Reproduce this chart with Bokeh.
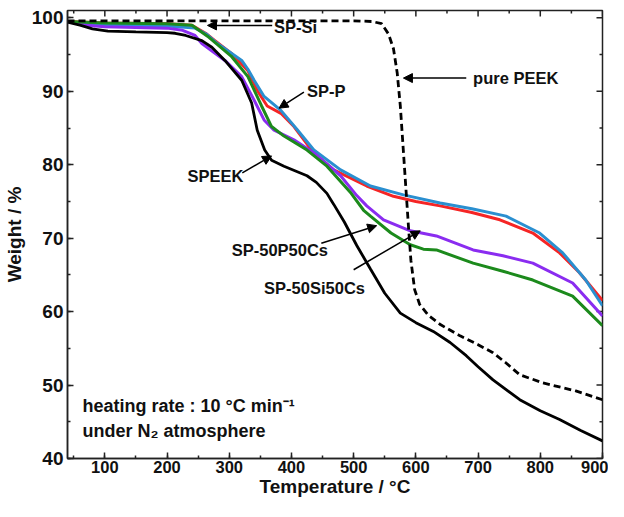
import math
from bokeh.plotting import figure
from bokeh.models import Range1d, SingleIntervalTicker, Arrow, NormalHead
from bokeh.core.properties import value
from bokeh.embed import file_html
from bokeh.resources import INLINE

FONT = "Liberation Sans"

# ---- data ----
peek_T = [40, 100, 200, 300, 400, 500, 530, 545, 556, 564, 570, 575, 579, 583, 588, 592, 598, 606, 620, 640, 671, 700, 724, 745, 767, 804, 857, 900]
peek_W = [99.6, 99.6, 99.6, 99.6, 99.6, 99.6, 99.5, 99.2, 97.8, 95.8, 92.5, 88.0, 83.0, 78.0, 71.7, 67.0, 63.0, 61.0, 59.5, 58.2, 56.7, 55.5, 54.4, 53.0, 51.4, 50.3, 49.2, 48.0]

speek_T = [40, 60, 80, 105, 150, 200, 213, 230, 256, 272, 293, 320, 336, 345, 357, 368, 388, 425, 440, 457, 468, 485, 505, 527, 550, 575, 600, 628, 655, 681, 700, 724, 767, 800, 831, 865, 900]
speek_W = [99.4, 99.0, 98.5, 98.2, 98.1, 98.0, 97.9, 97.6, 96.9, 96.0, 94.2, 91.5, 88.4, 84.7, 82.0, 80.6, 79.8, 78.5, 77.6, 76.1, 74.6, 72.2, 69.0, 65.8, 62.5, 59.8, 58.5, 57.3, 55.8, 54.0, 52.5, 50.7, 48.0, 46.5, 45.3, 43.8, 42.4]

spsi_T = [40, 70, 100, 200, 240, 262, 277, 303, 330, 345, 361, 383, 404, 436, 468, 521, 564, 600, 639, 690, 735, 788, 831, 863, 900]
spsi_W = [99.5, 99.4, 99.3, 99.2, 99.0, 97.9, 96.9, 95.2, 92.8, 90.1, 88.0, 87.0, 85.2, 81.6, 79.3, 77.1, 75.7, 75.0, 74.4, 73.5, 72.5, 70.7, 68.0, 65.3, 61.5]

spp_T = [40, 70, 100, 200, 245, 263, 281, 300, 320, 330, 340, 356, 383, 409, 436, 479, 527, 580, 639, 690, 745, 799, 836, 873, 900]
spp_W = [99.5, 99.2, 99.0, 98.9, 98.6, 97.8, 96.5, 95.4, 94.2, 93.0, 91.5, 89.3, 87.4, 84.8, 82.0, 79.3, 77.1, 75.9, 74.8, 74.0, 73.0, 70.7, 68.0, 64.3, 60.8]

spsi50_T = [40, 70, 100, 200, 225, 245, 256, 275, 293, 320, 340, 356, 372, 404, 436, 479, 505, 521, 548, 591, 633, 692, 740, 788, 852, 900]
spsi50_W = [99.5, 99.0, 98.8, 98.6, 98.3, 97.6, 96.5, 95.3, 94.2, 92.0, 88.8, 86.1, 84.7, 83.4, 81.6, 78.5, 75.8, 74.4, 72.5, 71.0, 70.3, 68.4, 67.6, 66.6, 63.9, 59.4]

spp50_T = [40, 70, 100, 200, 240, 265, 303, 330, 352, 368, 388, 425, 457, 496, 516, 527, 560, 591, 612, 633, 692, 740, 788, 852, 900]
spp50_W = [99.5, 99.4, 99.3, 99.2, 99.0, 97.5, 94.8, 92.0, 88.0, 85.2, 83.9, 82.0, 79.8, 76.1, 73.8, 73.0, 70.7, 69.1, 68.5, 68.4, 66.6, 65.5, 64.3, 62.1, 58.1]

# tick positions (major / minor)
x_major = [100, 200, 300, 400, 500, 600, 700, 800, 900]
x_minor = [50, 150, 250, 350, 450, 550, 650, 750, 850]
y_major = [40, 50, 60, 70, 80, 90, 100]
y_minor = [45, 55, 65, 75, 85, 95]

X_MIN, X_MAX, Y_MIN, Y_MAX = 40, 900, 40, 101

p = figure(width=608, height=500, output_backend="svg", toolbar_location=None,
           x_range=Range1d(X_MIN, X_MAX), y_range=Range1d(Y_MIN, Y_MAX),
           min_border_left=64, min_border_right=6, min_border_top=10, min_border_bottom=42,
           x_axis_label="Temperature / °C", y_axis_label="Weight / %")
p.grid.visible = False
p.outline_line_color = "#222222"
p.outline_line_width = 1.5
p.background_fill_color = "white"
p.border_fill_color = "white"

def style_axis(ax, ticker, font_size, title_size, label_standoff, title_standoff):
    ax.ticker = ticker
    ax.major_tick_in = 6
    ax.major_tick_out = 0
    ax.minor_tick_in = 3
    ax.minor_tick_out = 0
    ax.major_tick_line_width = 1.5
    ax.minor_tick_line_width = 1.5
    ax.major_tick_line_color = "#222222"
    ax.minor_tick_line_color = "#222222"
    ax.axis_line_color = "#222222"
    ax.axis_line_width = 1.5
    ax.major_label_text_font = FONT
    ax.major_label_text_font_style = "bold"
    ax.major_label_text_font_size = font_size
    ax.major_label_text_color = "#111111"
    ax.major_label_standoff = label_standoff
    ax.axis_label_text_font = FONT
    ax.axis_label_text_font_style = "bold"
    ax.axis_label_text_font_size = title_size
    ax.axis_label_text_color = "#111111"
    ax.axis_label_standoff = title_standoff

style_axis(p.xaxis[0], SingleIntervalTicker(interval=100, num_minor_ticks=2), "16.5px", "19px", 2, 0)
style_axis(p.yaxis[0], SingleIntervalTicker(interval=10, num_minor_ticks=2), "19px", "19px", 4, 4)

# mirrored inward ticks on the top and right edges (half of each dash is clipped by the frame)
p.scatter(x=x_major, y=[Y_MAX] * len(x_major), marker="dash", angle=math.pi / 2, size=12,
          line_color="#222222", line_width=1.5)
p.scatter(x=x_minor, y=[Y_MAX] * len(x_minor), marker="dash", angle=math.pi / 2, size=6,
          line_color="#222222", line_width=1.5)
p.scatter(x=[X_MAX] * len(y_major), y=y_major, marker="dash", size=12,
          line_color="#222222", line_width=1.5)
p.scatter(x=[X_MAX] * len(y_minor), y=y_minor, marker="dash", size=6,
          line_color="#222222", line_width=1.5)

p.line(spsi_T, spsi_W, line_color="#f52525", line_width=3)
p.line(spp_T, spp_W, line_color="#2a8fd0", line_width=3)
p.line(spsi50_T, spsi50_W, line_color="#8a2cf0", line_width=3)
p.line(spp50_T, spp50_W, line_color="#1c8a1c", line_width=3)
p.line(speek_T, speek_W, line_color="black", line_width=2.8)
p.line(peek_T, peek_W, line_color="black", line_width=2.8, line_dash="7 4")

# annotations
labels = ["SP-Si", "SP-P", "SPEEK", "pure PEEK", "SP-50P50Cs", "SP-50Si50Cs"]
lab_x = [372, 425, 233, 692, 304, 356]
lab_y = [98.7, 90.1, 78.5, 91.8, 68.4, 63.2]
p.text(x=lab_x, y=lab_y, text=labels, text_font=value(FONT), text_font_style="bold",
       text_font_size="16.5px", text_baseline="middle", text_align="left", text_color="#111111")

arr = [(369, 98.97, 265, 98.97), (420, 89.9, 380, 87.7), (321, 78.9, 368, 81.2),
       (681, 91.8, 580, 91.8), (448, 69.3, 537, 71.7), (500, 65.7, 607, 71.0)]
for xs, ys, xe, ye in arr:
    p.add_layout(Arrow(end=NormalHead(size=9, fill_color="black", line_color="black", line_width=1),
                       x_start=xs, y_start=ys, x_end=xe, y_end=ye, line_width=1.5, line_color="black"))

notes = ["heating rate : 10 °C min⁻¹", "under N₂ atmosphere"]
p.text(x=[64, 64], y=[47.2, 43.8], text=notes, text_font=value(FONT), text_font_style="bold",
       text_font_size="18px", text_baseline="middle", text_align="left", text_color="#111111")

open("out.html", "w").write(file_html(p, INLINE))
